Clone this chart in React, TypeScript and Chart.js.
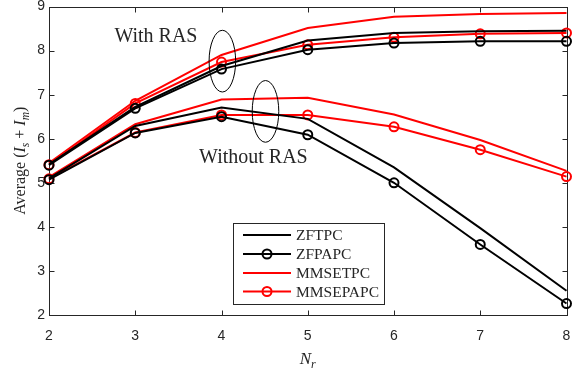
import React, { useEffect, useRef } from "react";
import { Chart, registerables } from "chart.js";
Chart.register(...registerables);

// ---- data ----
const nr = [2, 3, 4, 5, 6, 7, 8];
const xTicks = [2, 3, 4, 5, 6, 7, 8];
const yTicks = [2, 3, 4, 5, 6, 7, 8, 9];
const seriesNames = ["ZFTPC", "ZFPAPC", "MMSETPC", "MMSEPAPC"];

// With RAS
const zftpcRAS = [5.42, 6.72, 7.65, 8.23, 8.40, 8.44, 8.45];
const zfpapcRAS = [5.40, 6.69, 7.58, 8.02, 8.17, 8.21, 8.21];
const mmsetpcRAS = [5.45, 6.86, 7.90, 8.51, 8.77, 8.83, 8.85];
const mmsepapcRAS = [5.41, 6.80, 7.74, 8.13, 8.30, 8.38, 8.40];

// Without RAS
const zftpcNo = [5.10, 6.29, 6.71, 6.45, 5.35, 3.97, 2.55];
const zfpapcNo = [5.07, 6.13, 6.50, 6.09, 5.00, 3.60, 2.26];
const mmsetpcNo = [5.13, 6.33, 6.89, 6.93, 6.55, 5.97, 5.27];
const mmsepapcNo = [5.09, 6.14, 6.54, 6.54, 6.27, 5.75, 5.14];

// annotations (data coordinates)
const annWith = { text: "With RAS", x: 3.24, y: 8.32 };
const annWithout = { text: "Without RAS", x: 4.37, y: 5.57 };
const ellipses = [
  { cx: 4.01, cy: 7.76, rx: 0.154, ry: 0.70 },
  { cx: 4.51, cy: 6.62, rx: 0.154, ry: 0.70 },
];

const BLACK = "#000000";
const RED = "#ff0000";
const AXIS = "#262626";
const SERIF = "'Liberation Serif', 'Times New Roman', serif";
const SANS = "'Liberation Sans', Arial, sans-serif";

const styles = [
  { color: BLACK, marker: false },
  { color: BLACK, marker: true },
  { color: RED, marker: false },
  { color: RED, marker: true },
];

const pts = (ys: number[]) => nr.map((x, i) => ({ x, y: ys[i] }));

function makeDs(ys: number[], k: number) {
  const s = styles[k];
  return {
    label: seriesNames[k],
    data: pts(ys),
    borderColor: s.color,
    backgroundColor: "rgba(0,0,0,0)",
    borderWidth: 2,
    pointRadius: s.marker ? 4.5 : 0,
    pointBorderWidth: 2,
    pointBorderColor: s.color,
    pointBackgroundColor: "rgba(0,0,0,0)",
    pointStyle: "circle",
    tension: 0,
    clip: false as any,
  };
}

function drawRich(ctx: CanvasRenderingContext2D, parts: { t: string; f: string; dy: number }[], cx: number, by: number) {
  let w = 0;
  for (const p of parts) { ctx.font = p.f; w += ctx.measureText(p.t).width; }
  let x = cx - w / 2;
  ctx.textBaseline = "alphabetic";
  ctx.textAlign = "left";
  for (const p of parts) {
    ctx.font = p.f;
    ctx.fillText(p.t, x, by + p.dy);
    x += ctx.measureText(p.t).width;
  }
}

const decor = {
  id: "decor",
  beforeDatasetsDraw(chart: any) {
    const { ctx, chartArea: a, scales } = chart;
    const xs = scales.x, ys = scales.y;
    ctx.save();
    ctx.strokeStyle = AXIS;
    ctx.lineWidth = 1;
    const L = Math.round(a.left) + 0.5, R = Math.round(a.right) + 0.5;
    const T = Math.round(a.top) + 0.5, B = Math.round(a.bottom) + 0.5;
    ctx.strokeRect(L, T, R - L, B - T);
    const tl = 5;
    ctx.beginPath();
    for (const v of xTicks) {
      const px = Math.round(xs.getPixelForValue(v)) + 0.5;
      ctx.moveTo(px, B); ctx.lineTo(px, B - tl);
      ctx.moveTo(px, T); ctx.lineTo(px, T + tl);
    }
    for (const v of yTicks) {
      const py = Math.round(ys.getPixelForValue(v)) + 0.5;
      ctx.moveTo(L, py); ctx.lineTo(L + tl, py);
      ctx.moveTo(R, py); ctx.lineTo(R - tl, py);
    }
    ctx.stroke();
    ctx.restore();
  },
  afterDatasetsDraw(chart: any) {
    const { ctx, chartArea: a, scales } = chart;
    const xs = scales.x, ys = scales.y;
    ctx.save();
    // ellipses
    ctx.strokeStyle = BLACK;
    ctx.lineWidth = 1;
    for (const e of ellipses) {
      const cx = xs.getPixelForValue(e.cx), cy = ys.getPixelForValue(e.cy);
      const rx = Math.abs(xs.getPixelForValue(e.cx + e.rx) - cx);
      const ry = Math.abs(ys.getPixelForValue(e.cy + e.ry) - cy);
      ctx.beginPath();
      ctx.ellipse(cx, cy, rx, ry, 0, 0, Math.PI * 2);
      ctx.stroke();
    }
    // annotation texts
    ctx.fillStyle = AXIS;
    ctx.font = `20px ${SERIF}`;
    ctx.textAlign = "center";
    ctx.textBaseline = "middle";
    for (const an of [annWith, annWithout]) {
      ctx.fillText(an.text, xs.getPixelForValue(an.x), ys.getPixelForValue(an.y));
    }
    // legend
    const bx = 233.5, by = 223.5, bw = 151, bh = 81;
    ctx.fillStyle = "#ffffff";
    ctx.fillRect(bx, by, bw, bh);
    ctx.strokeStyle = AXIS;
    ctx.lineWidth = 1;
    ctx.strokeRect(bx, by, bw, bh);
    const rowY = [235, 254, 273, 291.5];
    for (let k = 0; k < 4; k++) {
      const s = styles[k];
      const y = rowY[k];
      ctx.strokeStyle = s.color;
      ctx.lineWidth = 2;
      ctx.beginPath();
      ctx.moveTo(243, y); ctx.lineTo(291, y);
      ctx.stroke();
      if (s.marker) {
        ctx.beginPath();
        ctx.arc(267, y, 4.5, 0, Math.PI * 2);
        ctx.stroke();
      }
      ctx.fillStyle = AXIS;
      ctx.font = `15.5px ${SERIF}`;
      ctx.textAlign = "left";
      ctx.textBaseline = "middle";
      ctx.fillText(seriesNames[k], 296, y + 1);
    }
    // x title
    ctx.fillStyle = AXIS;
    const xc = (a.left + a.right) / 2;
    drawRich(ctx, [
      { t: "N", f: `italic 17px ${SERIF}`, dy: 0 },
      { t: "r", f: `italic 12px ${SERIF}`, dy: 4 },
    ], xc, 364);
    // y title
    ctx.save();
    ctx.translate(25, (a.top + a.bottom) / 2);
    ctx.rotate(-Math.PI / 2);
    drawRich(ctx, [
      { t: "Average (", f: `16px ${SERIF}`, dy: 0 },
      { t: "I", f: `italic 16px ${SERIF}`, dy: 0 },
      { t: "s", f: `italic 11.5px ${SERIF}`, dy: 3.5 },
      { t: " + ", f: `16px ${SERIF}`, dy: 0 },
      { t: "I", f: `italic 16px ${SERIF}`, dy: 0 },
      { t: "m", f: `italic 11.5px ${SERIF}`, dy: 3.5 },
      { t: ")", f: `16px ${SERIF}`, dy: 0 },
    ], 0, 0);
    ctx.restore();
    ctx.restore();
  },
};

export default function App() {
  const ref = useRef<HTMLCanvasElement | null>(null);
  useEffect(() => {
    if (!ref.current) return;
    const datasets = [
      makeDs(zftpcRAS, 0), makeDs(zfpapcRAS, 1), makeDs(mmsetpcRAS, 2), makeDs(mmsepapcRAS, 3),
      makeDs(zftpcNo, 0), makeDs(zfpapcNo, 1), makeDs(mmsetpcNo, 2), makeDs(mmsepapcNo, 3),
    ];
    const chart = new Chart(ref.current, {
      type: "line",
      data: { datasets },
      options: {
        animation: false,
        responsive: false,
        maintainAspectRatio: false,
        layout: { padding: { left: 0, right: 4, top: 5, bottom: 0 } },
        plugins: { legend: { display: false }, tooltip: { enabled: false } },
        scales: {
          x: {
            type: "linear",
            min: 2,
            max: 8,
            grid: { display: false, drawTicks: false },
            border: { display: false },
            ticks: {
              stepSize: 1,
              padding: 13,
              color: AXIS,
              font: { family: SANS, size: 14 },
            },
            afterFit: (s: any) => { s.height = 56; s.paddingLeft = 0; s.paddingRight = 0; },
          },
          y: {
            type: "linear",
            min: 2,
            max: 9,
            grid: { display: false, drawTicks: false },
            border: { display: false },
            ticks: {
              stepSize: 1,
              padding: 4,
              color: AXIS,
              font: { family: SANS, size: 14 },
            },
            afterFit: (s: any) => { s.width = 49; s.paddingTop = 0; s.paddingBottom = 0; },
          },
        },
      } as any,
      plugins: [decor],
    });
    return () => chart.destroy();
  }, []);
  return (
    <div style={{ position: "fixed", left: 0, top: 0, width: 573, height: 371, background: "#fff" }}>
      <canvas ref={ref} width={573} height={371} style={{ width: 573, height: 371, display: "block" }} />
    </div>
  );
}
